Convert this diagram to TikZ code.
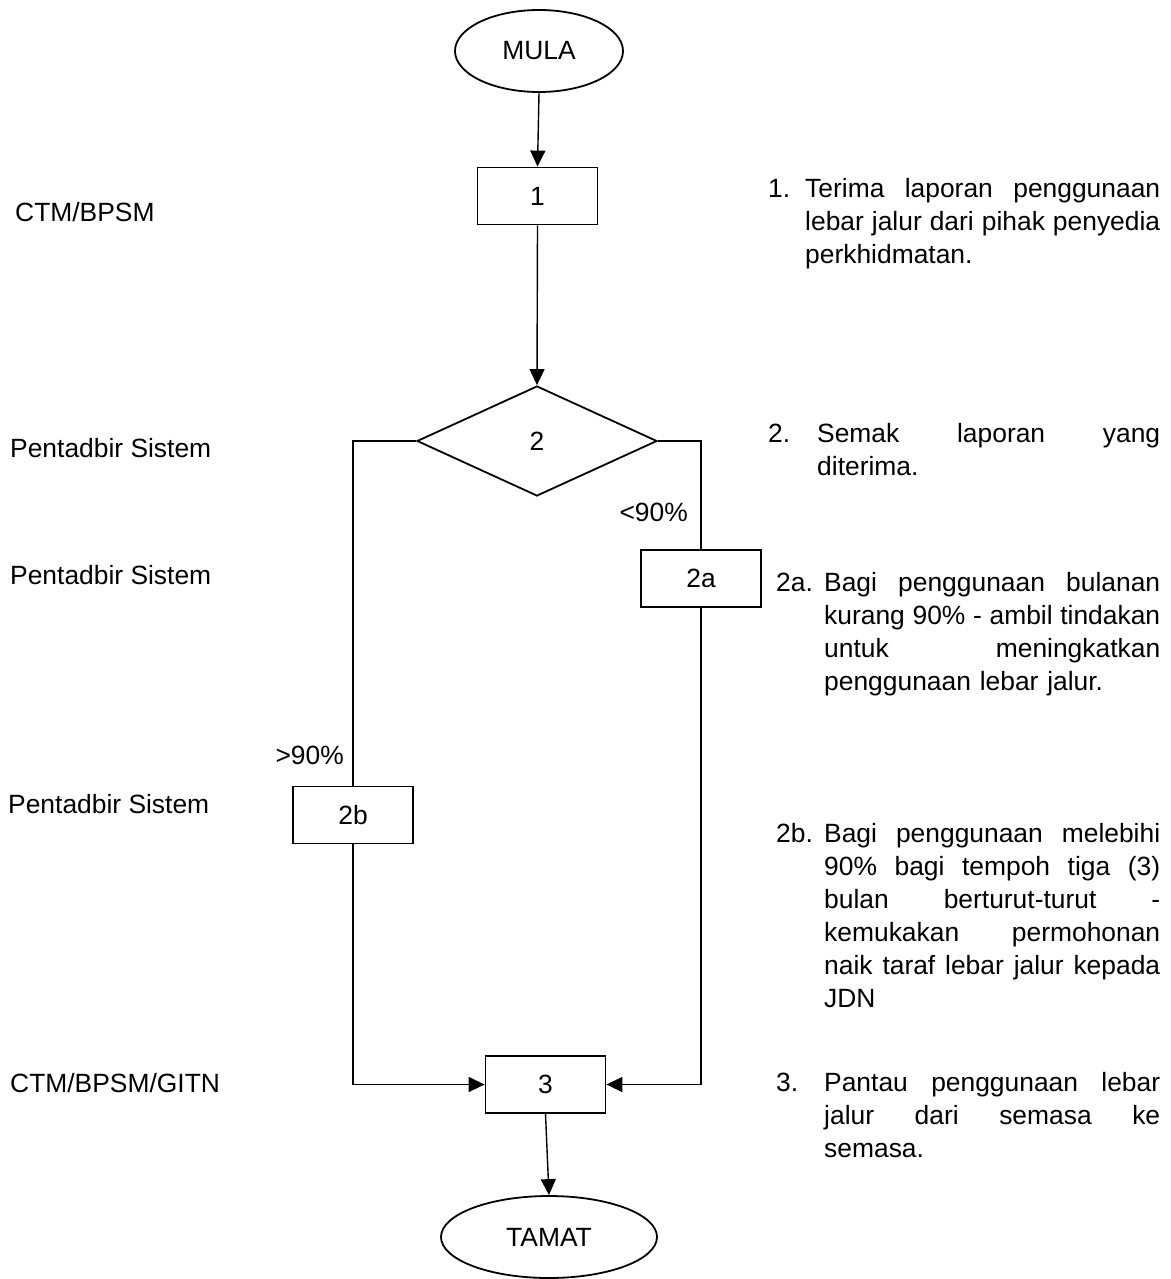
\documentclass[tikz,border=0pt]{standalone}
\usepackage{fontspec}
\setmainfont{Liberation Sans}
\usetikzlibrary{shapes.geometric,arrows.meta}
\newcommand{\jline}[2]{\leavevmode\hbox to #1{#2}}
\begin{document}
\begin{tikzpicture}[x=1pt,y=-1pt,
  txt/.style={font=\fontsize{26.4}{33}\selectfont, inner sep=0pt},
  para/.style={txt, align=left, anchor=base west},
  boxnode/.style={draw, line width=1.8pt, inner sep=0pt, minimum width=120pt, minimum height=57pt, font=\fontsize{26.4}{33}\selectfont},
  term/.style={ellipse, draw, line width=1.8pt, inner sep=0pt, font=\fontsize{26.4}{33}\selectfont},
  dec/.style={diamond, draw, line width=1.8pt, inner sep=0pt, minimum width=240pt, minimum height=110pt, font=\fontsize{26.4}{33}\selectfont},
  conn/.style={line width=1.4pt},
  arr/.style={conn, -{Triangle[length=16pt,width=15pt]}}]
\useasboundingbox (0,0) rectangle (1170,1279);

% flow shapes
\node[term, minimum width=168pt, minimum height=82pt] (mula) at (539,51) {MULA};
\node[boxnode] (b1) at (537.5,196) {1};
\node[dec] (d2) at (537,441) {2};
\node[boxnode] (b2a) at (701,578.5) {2a};
\node[boxnode] (b2b) at (353,815) {2b};
\node[boxnode] (b3) at (545.5,1084.5) {3};
\node[term, minimum width=216pt, minimum height=82pt] (tamat) at (549,1237) {TAMAT};

% connectors
\draw[arr] (mula.south) -- (b1.north);
\draw[arr] (b1.south) -- (d2.north);
\draw[conn] (d2.west) -| (b2b.north);
\draw[arr] (b2b.south) |- (b3.west);
\draw[conn] (d2.east) -| (b2a.north);
\draw[arr] (b2a.south) |- (b3.east);
\draw[arr] (b3.south) -- (tamat.north);

% branch labels
\node[txt, anchor=base east] (lt) at (688,521) {<90\%};
\node[txt, anchor=base east] (gt) at (344,764) {>90\%};

% role labels
\node[txt, anchor=base west] (r1) at (15,221) {CTM/BPSM};
\node[txt, anchor=base west] (r2) at (10,457) {Pentadbir Sistem};
\node[txt, anchor=base west] (r2a) at (10,584) {Pentadbir Sistem};
\node[txt, anchor=base west] (r2b) at (8,813) {Pentadbir Sistem};
\node[txt, anchor=base west] (r3) at (10,1092) {CTM/BPSM/GITN};

% descriptions
\node[txt, anchor=base west] (n1) at (768,197) {1.};
\node[para, text width=355pt] (t1) at (805,197) {\jline{355pt}{Terima\hfill laporan\hfill penggunaan}\\\jline{355pt}{lebar\hfill jalur\hfill dari\hfill pihak\hfill penyedia}\\perkhidmatan.};

\node[txt, anchor=base west] (n2) at (768,442) {2.};
\node[para, text width=343pt] (t2) at (817,442) {\jline{343pt}{Semak\hfill laporan\hfill yang}\\diterima.};

\node[txt, anchor=base west] (n2a) at (776,591) {2a.};
\node[para, text width=336pt] (t2a) at (824,591) {\jline{336pt}{Bagi\hfill penggunaan\hfill bulanan}\\\jline{336pt}{kurang\hfill 90\%\hfill -\hfill ambil\hfill tindakan}\\\jline{336pt}{untuk\hfill meningkatkan}\\penggunaan lebar jalur.};

\node[txt, anchor=base west] (n2b) at (776,842) {2b.};
\node[para, text width=336pt] (t2b) at (824,842) {\jline{336pt}{Bagi\hfill penggunaan\hfill melebihi}\\\jline{336pt}{90\%\hfill bagi\hfill tempoh\hfill tiga\hfill (3)}\\\jline{336pt}{bulan\hfill berturut-turut\hfill -}\\\jline{336pt}{kemukakan\hfill permohonan}\\\jline{336pt}{naik\hfill taraf\hfill lebar\hfill jalur\hfill kepada}\\JDN};

\node[txt, anchor=base west] (n3) at (776,1091) {3.};
\node[para, text width=336pt] (t3) at (824,1091) {\jline{336pt}{Pantau\hfill penggunaan\hfill lebar}\\\jline{336pt}{jalur\hfill dari\hfill semasa\hfill ke}\\semasa.};
\end{tikzpicture}
\end{document}
